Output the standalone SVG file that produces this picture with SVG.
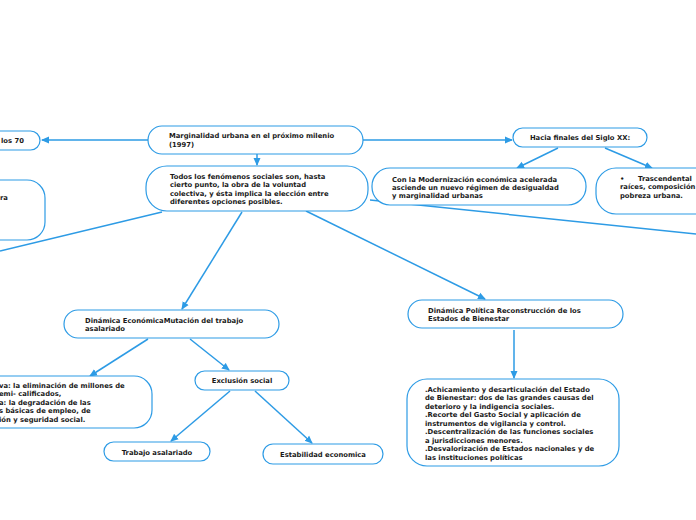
<svg xmlns="http://www.w3.org/2000/svg" width="696" height="520" viewBox="0 0 696 520">
<defs>
<marker id="ah" markerWidth="8" markerHeight="8" refX="7" refY="4" orient="auto" markerUnits="userSpaceOnUse">
<path d="M0,0.5 L8,4 L0,7.5 Z" fill="#2d9be5"/>
</marker>
<style>
.n{fill:#fff;stroke:#2d9be5;stroke-width:1.2}
.t{font-family:"DejaVu Sans",Verdana,sans-serif;font-weight:bold;font-size:6.8px;fill:#1a1a1a}
.c{text-anchor:middle}
.e{fill:none;stroke:#2d9be5;stroke-width:1.5}
</style>
</defs>
<rect width="696" height="520" fill="#fff"/>
<g id="connectors">
<line class="e" x1="148" y1="140" x2="42" y2="140" marker-end="url(#ah)"/>
<line class="e" x1="363" y1="140" x2="512" y2="140" marker-end="url(#ah)"/>
<line class="e" x1="257" y1="154" x2="257" y2="165" marker-end="url(#ah)"/>
<line class="e" x1="558" y1="148" x2="517" y2="168" marker-end="url(#ah)"/>
<line class="e" x1="605" y1="148" x2="652" y2="168" marker-end="url(#ah)"/>
<line class="e" x1="370" y1="200" x2="696" y2="234"/>
<line class="e" x1="162" y1="212" x2="0" y2="251"/>
<line class="e" x1="242" y1="212" x2="182" y2="309" marker-end="url(#ah)"/>
<line class="e" x1="306" y1="211" x2="485" y2="299" marker-end="url(#ah)"/>
<line class="e" x1="514" y1="330" x2="514" y2="378" marker-end="url(#ah)"/>
<line class="e" x1="148" y1="339" x2="90" y2="376" marker-end="url(#ah)"/>
<line class="e" x1="190" y1="339" x2="229" y2="370" marker-end="url(#ah)"/>
<line class="e" x1="230" y1="391" x2="171" y2="441" marker-end="url(#ah)"/>
<line class="e" x1="255" y1="391" x2="312" y2="443" marker-end="url(#ah)"/>
</g>
<g id="n-los70">
<rect class="n" x="-80" y="131" width="120" height="19" rx="9.5"/>
<text class="t" x="1" y="143">los 70</text>
</g>
<g id="n-root">
<rect class="n" x="148" y="126" width="215" height="28" rx="14"/>
<text class="t" x="169" y="138">Marginalidad urbana en el próximo milenio</text>
<text class="t" x="169" y="147">(1997)</text>
</g>
<g id="n-hacia">
<rect class="n" x="513" y="128" width="134" height="19" rx="9.5"/>
<text class="t c" x="580" y="140">Hacia finales del Siglo XX:</text>
</g>
<g id="n-todos">
<rect class="n" x="146" y="166" width="222" height="45" rx="21"/>
<text class="t" x="170" y="179">Todos los fenómenos sociales son, hasta</text>
<text class="t" x="170" y="187.3">cierto punto, la obra de la voluntad</text>
<text class="t" x="170" y="195.6">colectiva, y ésta implica la elección entre</text>
<text class="t" x="170" y="203.9">diferentes opciones posibles.</text>
</g>
<g id="n-left">
<rect class="n" x="-100" y="180" width="145" height="60" rx="18"/>
<text class="t" x="0" y="200">ra</text>
</g>
<g id="n-modern">
<rect class="n" x="372" y="168" width="214" height="37" rx="18"/>
<text class="t" x="392" y="181.5">Con la Modernización económica acelerada</text>
<text class="t" x="392" y="189.8">asciende un nuevo régimen de desigualdad</text>
<text class="t" x="392" y="198.1">y marginalidad urbanas</text>
</g>
<g id="n-trasc">
<rect class="n" x="596" y="168" width="160" height="46" rx="20"/>
<text class="t" x="620" y="181">•</text>
<text class="t" x="638" y="181">Trascendental</text>
<text class="t" x="620" y="189.3">raíces, composición</text>
<text class="t" x="620" y="197.6">pobreza urbana.</text>
</g>
<g id="n-dineco">
<rect class="n" x="64" y="310" width="215" height="28" rx="14"/>
<text class="t" x="85" y="322.5">Dinámica EconómicaMutación del trabajo</text>
<text class="t" x="85" y="330.8">asalariado</text>
</g>
<g id="n-dinpol">
<rect class="n" x="408" y="300" width="215" height="28" rx="14"/>
<text class="t" x="428" y="312.5">Dinámica Política Reconstrucción de los</text>
<text class="t" x="428" y="320.8">Estados de Bienestar</text>
</g>
<g id="n-achic">
<rect class="n" x="407" y="379" width="212" height="87" rx="20"/>
<text class="t" x="425" y="391.5">.Achicamiento y desarticulación del Estado</text>
<text class="t" x="425" y="400">de Bienestar: dos de las grandes causas del</text>
<text class="t" x="425" y="408.5">deterioro y la indigencia sociales.</text>
<text class="t" x="425" y="417">.Recorte del Gasto Social y aplicación de</text>
<text class="t" x="425" y="425.5">instrumentos de vigilancia y control.</text>
<text class="t" x="425" y="434">.Descentralización de las funciones sociales</text>
<text class="t" x="425" y="442.5">a jurisdicciones menores.</text>
<text class="t" x="425" y="451">.Desvalorización de Estados nacionales y de</text>
<text class="t" x="425" y="459.5">las instituciones políticas</text>
</g>
<g id="n-dinleft">
<rect class="n" x="-100" y="376" width="252" height="52" rx="18"/>
<text class="t" x="-1" y="387.5">va: la eliminación de millones de</text>
<text class="t" x="-1" y="396">emi- calificados,</text>
<text class="t" x="-1" y="404.5">a: la degradación de las</text>
<text class="t" x="-1" y="413">s básicas de empleo, de</text>
<text class="t" x="-1" y="421.5">ión y seguridad social.</text>
</g>
<g id="n-excl">
<rect class="n" x="195" y="371" width="94" height="19" rx="9.5"/>
<text class="t c" x="242" y="383">Exclusión social</text>
</g>
<g id="n-trab">
<rect class="n" x="104" y="442" width="106" height="19" rx="9.5"/>
<text class="t c" x="157" y="455">Trabajo asalariado</text>
</g>
<g id="n-estab">
<rect class="n" x="263" y="444" width="120" height="20" rx="10"/>
<text class="t c" x="323" y="457">Estabilidad economica</text>
</g>
</svg>
